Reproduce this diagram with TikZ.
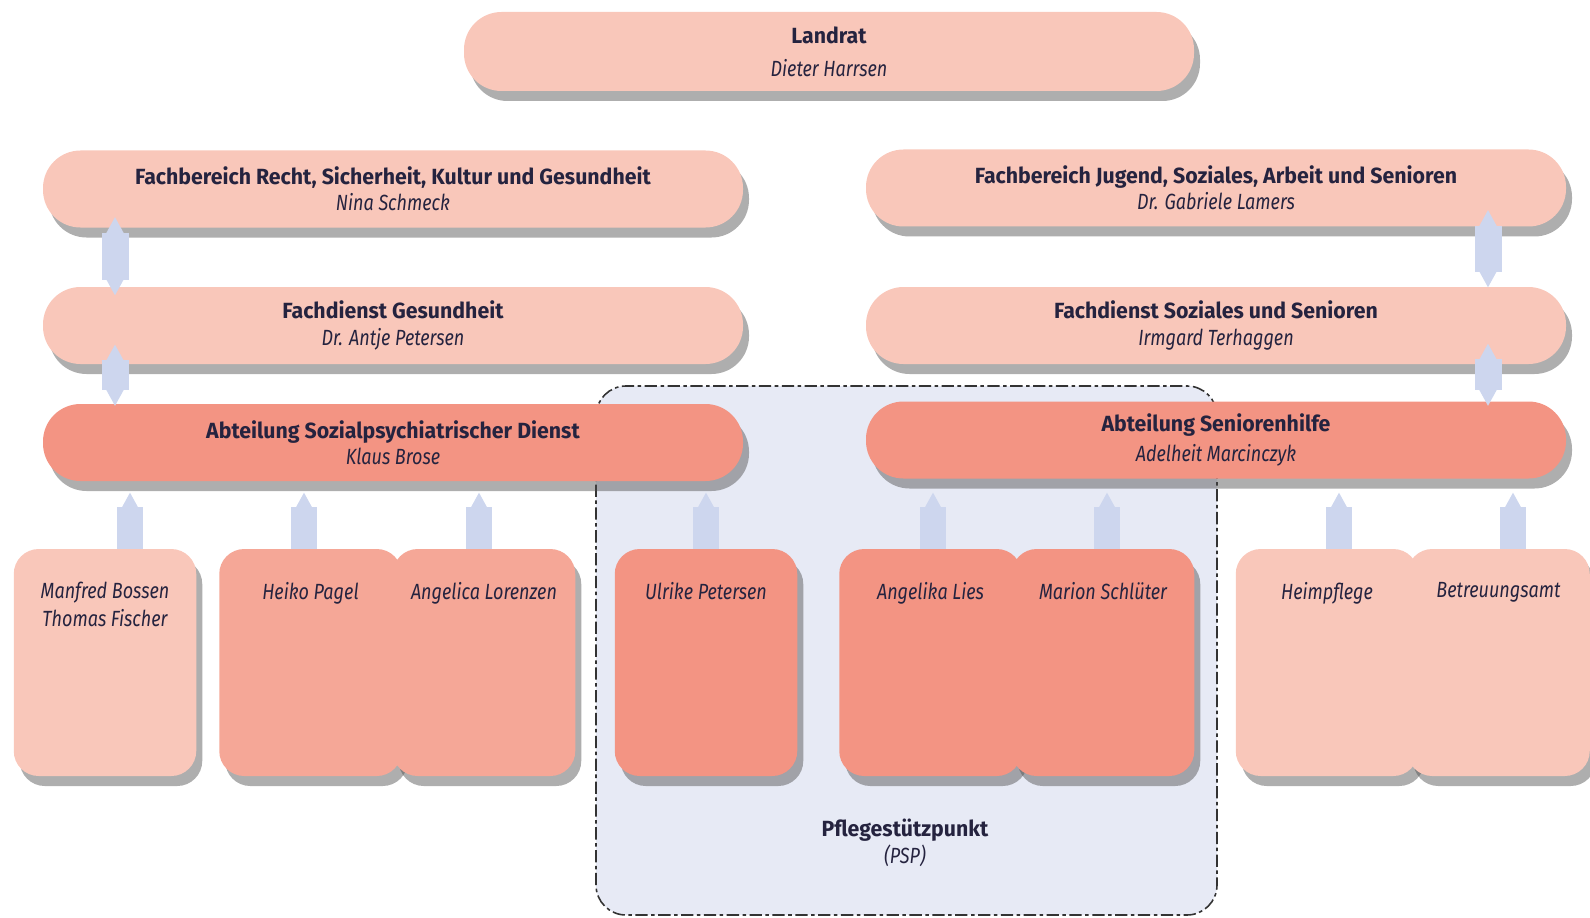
\documentclass[tikz,border=0pt]{standalone}
\usepackage{fontspec}
\setmainfont{Fira Sans}[FakeStretch=0.82]
\newfontfamily\headfont{Fira Sans}[FakeStretch=0.97]
\usetikzlibrary{positioning,shadows,arrows.meta}

\definecolor{peach}{HTML}{F9C7BA}
\definecolor{rosy}{HTML}{F5A797}
\definecolor{salmon}{HTML}{F39483}
\definecolor{linkblue}{HTML}{CDD6EE}
\definecolor{pspfill}{HTML}{E7EAF5}
\definecolor{inkblue}{HTML}{25233F}

\newcommand{\head}[1]{{\headfont\bfseries #1}}

\tikzset{
  box/.style={rounded corners=0.75cm, minimum width=14cm, minimum height=1.54cm,
    align=center, text=inkblue, font=\fontsize{12.5}{15}\selectfont,
    drop shadow={shadow xshift=0.12cm, shadow yshift=-0.2cm, fill=black!70, opacity=0.45}},
  lead/.style={box, fill=peach},
  dept/.style={box, fill=salmon},
  staff/.style={rounded corners=0.5cm, minimum width=3.65cm, minimum height=4.54cm,
    drop shadow={shadow xshift=0.12cm, shadow yshift=-0.2cm, fill=black!70, opacity=0.45}},
  tag/.style={align=center, text=inkblue, font=\fontsize{12.5}{15.5}\selectfont\itshape},
  link/.style={draw=linkblue, line width=0.54cm,
    arrows={Triangle[width'=0pt 1,length=0.34cm]-Triangle[width'=0pt 1,length=0.34cm]}},
  stub/.style={draw=linkblue, line width=0.52cm, arrows={-Triangle[width'=0pt 1,length=0.32cm]}},
  pspframe/.style={draw=black!80, fill=pspfill, line width=0.9pt, rounded corners=0.6cm,
    dash pattern=on 7pt off 2pt on 2pt off 2pt},
}

\begin{document}
\begin{tikzpicture}
    \useasboundingbox (0,0) rectangle (31.8,-18.36);
    \clip (0,0) rectangle (31.8,-18.36);

    % Pflegestuetzpunkt
    \draw[pspframe] (11.92,-7.72) rectangle (24.34,-18.3);

    % Leitung
    \node[lead, minimum width=14.6cm, minimum height=1.58cm] (lr) at (16.58,-1.03)
        {\head{Landrat}\\[4pt]\textit{Dieter Harrsen}};
    \node[lead] (fbl) at (7.86,-3.78)
        {\head{Fachbereich Recht, Sicherheit, Kultur und Gesundheit}\\\textit{Nina Schmeck}};
    \node[lead] (fbr) at (24.32,-3.76)
        {\head{Fachbereich Jugend, Soziales, Arbeit und Senioren}\\\textit{Dr. Gabriele Lamers}};
    \node[lead] (fdl) at (7.86,-6.51)
        {\head{Fachdienst Gesundheit}\\\textit{Dr. Antje Petersen}};
    \node[lead] (fdr) at (24.32,-6.51)
        {\head{Fachdienst Soziales und Senioren}\\\textit{Irmgard Terhaggen}};
    \node[dept] (abl) at (7.86,-8.85)
        {\head{Abteilung Sozialpsychiatrischer Dienst}\\\textit{Klaus Brose}};
    \node[dept] (abr) at (24.32,-8.8)
        {\head{Abteilung Seniorenhilfe}\\[2pt]\textit{Adelheit Marcinczyk}};

    % Verbindungen
    \draw[link] ([xshift=-5.56cm,yshift=0.22cm]fbl.south) -- ([xshift=-5.56cm,yshift=-0.18cm]fdl.north);
    \draw[link] ([xshift=-5.56cm,yshift=0.4cm]fdl.south) -- ([xshift=-5.56cm,yshift=-0.05cm]abl.north);
    \draw[link] ([xshift=5.44cm,yshift=0.34cm]fbr.south) -- ([xshift=5.44cm,yshift=-0.02cm]fdr.north);
    \draw[link] ([xshift=5.44cm,yshift=0.42cm]fdr.south) -- ([xshift=5.44cm,yshift=-0.1cm]abr.north);

    % Mitarbeiter
    \node[staff, fill=peach] (mb) at (2.1,-13.25) {};
    \node[staff, fill=rosy] (hp) at (6.21,-13.25) {};
    \node[staff, fill=rosy] (al) at (9.68,-13.25) {};
    \node[staff, fill=salmon] (up) at (14.12,-13.25) {};
    \node[staff, fill=salmon] (ali) at (18.61,-13.25) {};
    \node[staff, fill=salmon] (ms) at (22.06,-13.25) {};
    \node[staff, fill=peach] (hpf) at (26.54,-13.25) {};
    \node[staff, fill=peach] (ba) at (29.97,-13.25) {};

    \foreach \who/\dx in {mb/0.5, hp/-0.13, al/-0.1, up/0, ali/0.05, ms/0.08, hpf/0.24, ba/0.29}
        \draw[stub] ([xshift=\dx cm]\who.north) -- ([xshift=\dx cm,yshift=-0.22cm]\who.north |- abl.south);

    \node[tag, below=0.55cm of mb.north] (mbt) {Manfred Bossen\\Thomas Fischer};
    \node[tag, below=0.55cm of hp.north] (hpt) {Heiko Pagel};
    \node[tag, below=0.55cm of al.north] (alt) {Angelica Lorenzen};
    \node[tag, below=0.55cm of up.north] (upt) {Ulrike Petersen};
    \node[tag, below=0.55cm of ali.north] (alit) {Angelika Lies};
    \node[tag, below=0.55cm of ms.north] (mst) {Marion Schlüter};
    \node[tag, below=0.55cm of hpf.north] (hpft) {Heimpflege};
    \node[tag, below=0.55cm of ba.north] (bat) {Betreuungsamt};

    \node[tag, font=\fontsize{12.5}{15.5}\selectfont] (psp) at (18.1,-16.86)
        {\head{Pflegestützpunkt}\\\textit{(PSP)}};
\end{tikzpicture}
\end{document}
